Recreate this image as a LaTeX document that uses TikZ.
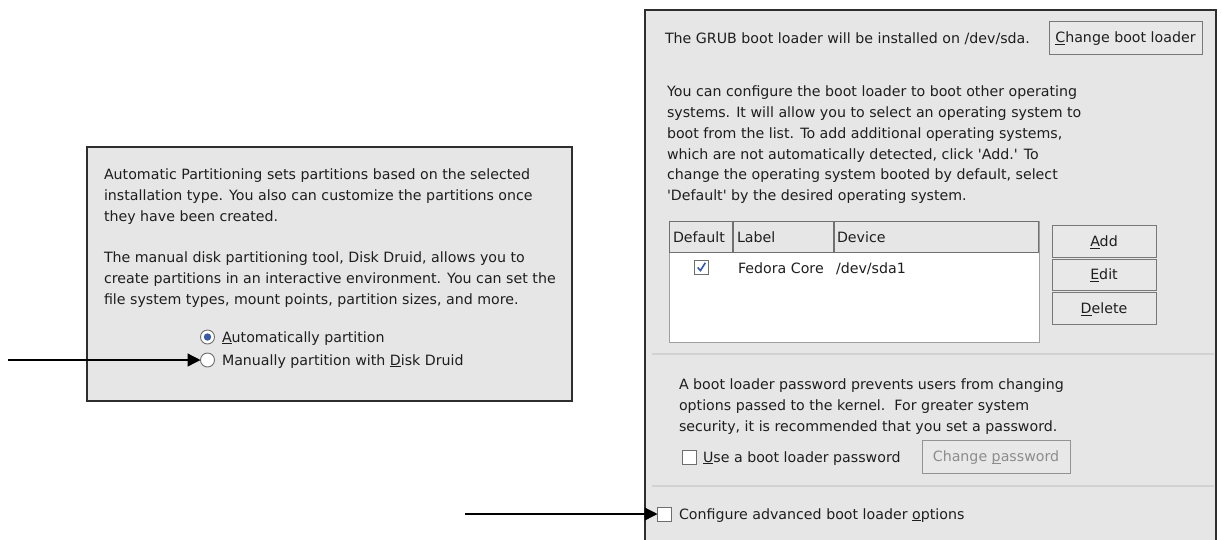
\documentclass[tikz,border=0pt]{standalone}
\usepackage{fontspec}
\setmainfont{DejaVu Sans}[Ligatures=TeXOff]
\usetikzlibrary{arrows.meta}
\definecolor{ink}{HTML}{1E1E1E}
\definecolor{panelbg}{HTML}{E6E6E6}
\definecolor{frame}{HTML}{2E2E2E}
\definecolor{btnbg}{HTML}{E8E8E8}
\definecolor{btnline}{HTML}{787878}
\definecolor{boxline}{HTML}{6E6E6E}
\definecolor{sepcol}{HTML}{D2D2D2}
\definecolor{tblline}{HTML}{A0A0A0}
\definecolor{hdrline}{HTML}{707070}
\definecolor{radblue}{HTML}{3A5BA8}
\definecolor{checkc}{HTML}{3556B0}
\definecolor{greytxt}{HTML}{8C8C8C}
\newcommand\ui{\fontsize{14.2}{20.8}\selectfont}
\newcommand\mnem[1]{\setbox0\hbox{#1}\rlap{\rule[-2.3pt]{\wd0}{0.9pt}}#1}
\tikzset{
  every node/.style={inner sep=0pt, outer sep=0pt, font=\ui},
  txt/.style={anchor=base west, text=ink},
  para/.style={anchor=north west, align=left, text=ink},
  panel/.style={draw=frame, fill=panelbg, line width=1.3pt, anchor=north west},
  btn/.style={draw=btnline, fill=btnbg, line width=1pt, text=ink, text height=10.4pt, text depth=0pt},
  hdr/.style={draw=hdrline, fill=panelbg, line width=0.9pt, anchor=north west},
  cbox/.style={draw=boxline, fill=white, line width=0.9pt, minimum size=14pt},
  radio/.style={circle, draw=boxline, line width=0.9pt, fill=white, minimum size=14pt},
  sepline/.style={draw=sepcol, line width=1.5pt},
  arr/.style={draw=black, line width=1.3pt, -{Triangle[length=13pt,width=13pt]}},
}
\begin{document}
\begin{tikzpicture}[x=1pt,y=-1pt]
\useasboundingbox (0,0) rectangle (1222,539);
\fill[white] (0,0) rectangle (1222,539);

% ---------------- left panel ----------------
\node[panel, line width=1.2pt, minimum width=485pt, minimum height=254pt] (lbox) at (87,147) {};
\node[para] (lp1) at (104,165.4) {\strut Automatic Partitioning sets partitions based on the selected\\
installation type. You also can customize the partitions once\\
they have been created.};
\node[para] (lp2) at (104,248.4) {\strut The manual disk partitioning tool, Disk Druid, allows you to\\
create partitions in an interactive environment. You can set the\\
file system types, mount points, partition sizes, and more.};
\node[radio] (rA) at (207.5,337) {};
\fill[radblue] (rA.center) circle (3.7pt);
\node[txt] (tA) at (222,342) {\mnem{A}utomatically partition};
\node[radio] (rM) at (207.5,360) {};
\node[txt] (tM) at (222,365) {Manually partition with \mnem{D}isk Druid};
\coordinate (la) at (8,360);
\draw[arr] (la) -- (rM.west);

% ---------------- right panel ----------------
\node[panel, line width=1.6pt, minimum width=571pt, minimum height=545pt] (rbox) at (645,10) {};
\node[txt] (grub) at (665,43) {The GRUB boot loader will be installed on /dev/sda.};
\node[btn, minimum width=153pt, minimum height=33pt] (bCBL) at (1125.5,37.5) {\mnem{C}hange boot loader};
\node[para] (rp1) at (667,82.1) {\strut You can configure the boot loader to boot other operating\\
systems. It will allow you to select an operating system to\\
boot from the list. To add additional operating systems,\\
which are not automatically detected, click 'Add.' To\\
change the operating system booted by default, select\\
'Default' by the desired operating system.};

% table
\node[draw=tblline, fill=white, line width=1pt, anchor=north west, minimum width=370pt, minimum height=121pt] (tbl) at (669,221) {};
\node[hdr, minimum width=63pt, minimum height=31pt] (hD) at (669,221) {};
\node[hdr, minimum width=100pt, minimum height=31pt] (hL) at (733,221) {};
\node[hdr, minimum width=204pt, minimum height=31pt] (hV) at (834,221) {};
\node[txt] (tD) at (673,242) {Default};
\node[txt] (tL) at (737,242) {Label};
\node[txt] (tV) at (837,242) {Device};
\node[cbox, minimum size=14pt] (chk) at (701.5,267) {};
\draw[checkc, line width=1.6pt] ([shift={(-3.8,0.5)}]chk.center) -- ([shift={(-1,3.5)}]chk.center) -- ([shift={(3.8,-4.2)}]chk.center);
\node[txt] (tF) at (738,273) {Fedora Core};
\node[txt] (tS) at (836,273) {/dev/sda1};

\node[btn, minimum width=104pt, minimum height=32pt] (bAdd) at (1104,241) {\mnem{A}dd};
\node[btn, minimum width=104pt, minimum height=31pt] (bEdit) at (1104,274.5) {\mnem{E}dit};
\node[btn, minimum width=104pt, minimum height=32pt] (bDel) at (1104,308) {\mnem{D}elete};

\coordinate (s1a) at (652,354);
\coordinate (s1b) at (1214,354);
\draw[sepline] (s1a) -- (s1b);

\node[para] (rp2) at (679,375.4) {\strut A boot loader password prevents users from changing\\
options passed to the kernel.\ \ For greater system\\
security, it is recommended that you set a password.};
\node[cbox] (cUse) at (689.5,457) {};
\node[txt] (tUse) at (703,462) {\mnem{U}se a boot loader password};
\node[btn, draw=btnline!80, text=greytxt, minimum width=148pt, minimum height=33pt] (bCP) at (996,456.5) {Change \mnem{p}assword};

\coordinate (s2a) at (652,486);
\coordinate (s2b) at (1214,486);
\draw[sepline] (s2a) -- (s2b);

\node[cbox] (cAdv) at (664.5,514) {};
\node[txt] (tAdv) at (679,519) {Configure advanced boot loader \mnem{o}ptions};
\coordinate (ra) at (465,514);
\draw[arr] (ra) -- (cAdv.west);
\end{tikzpicture}
\end{document}
